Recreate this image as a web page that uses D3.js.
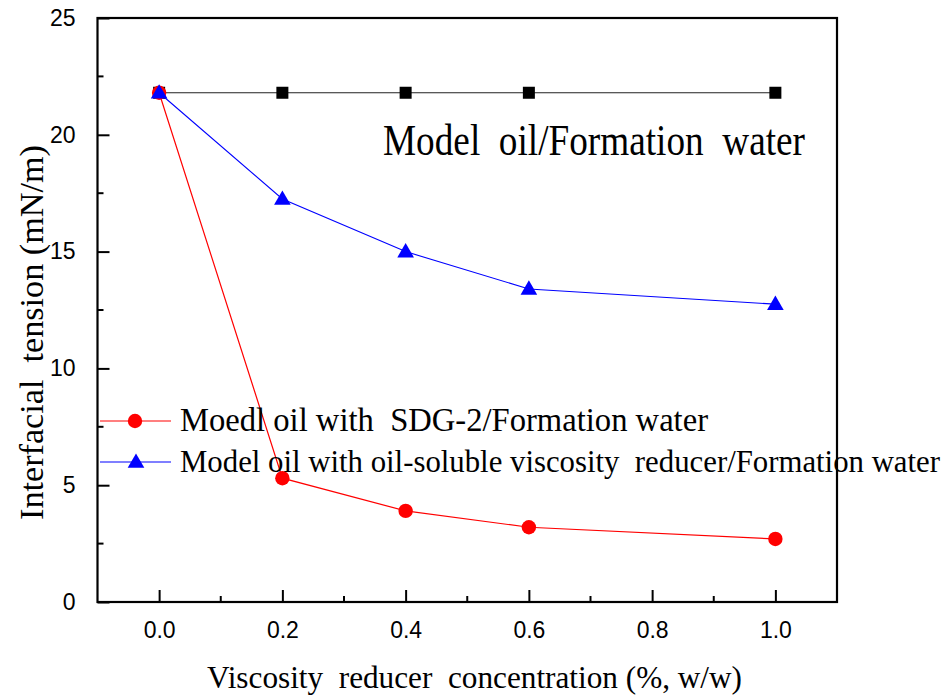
<!DOCTYPE html>
<html>
<head>
<meta charset="utf-8">
<script src="https://cdn.jsdelivr.net/npm/d3@7"></script>
<style>
  html, body { margin: 0; padding: 0; background: #fff; }
  svg { display: block; }
  text { white-space: pre; }
</style>
</head>
<body>
<svg id="chart" width="949" height="697"></svg>
<script>
// Viscosity reducer concentration (%, w/w)
const concentration = [0.0, 0.2, 0.4, 0.6, 1.0];
// Interfacial tension (mN/m) for each system
const blankSeries = [21.8, 21.8, 21.8, 21.8, 21.8];
const sdgSeries = [21.8, 5.3, 3.9, 3.2, 2.7];
const oilSolubleSeries = [21.8, 17.25, 15.0, 13.4, 12.75];

const xTicks = [0.0, 0.2, 0.4, 0.6, 0.8, 1.0];
const xMinorTicks = [0.1, 0.3, 0.5, 0.7, 0.9];
const yTicks = [0, 5, 10, 15, 20, 25];
const yMinorTicks = [2.5, 7.5, 12.5, 17.5, 22.5];

const svg = d3.select("#chart");
const plotLeft = 97.5, plotRight = 837, plotTop = 18, plotBottom = 602;

const x = d3.scaleLinear().domain([-0.1, 1.1]).range([plotLeft, plotRight]);
const y = d3.scaleLinear().domain([0, 25]).range([plotBottom, plotTop]);

const serif = "'Liberation Serif', 'Times New Roman', serif";
const sans = "'Liberation Sans', Arial, sans-serif";

// Axes: ticks point into the plot, labels outside
const xAxis = d3.axisBottom(x).tickValues(xTicks).tickSize(-12).tickPadding(20)
  .tickFormat(d3.format(".1f"));
const yAxis = d3.axisLeft(y).tickValues(yTicks).tickSize(-12).tickPadding(22)
  .tickFormat(d3.format("d"));

const gx = svg.append("g").attr("transform", `translate(0,${plotBottom})`).call(xAxis);
const gy = svg.append("g").attr("transform", `translate(${plotLeft},0)`).call(yAxis);

gx.append("g").selectAll("line").data(xMinorTicks).join("line")
  .attr("x1", d => x(d)).attr("x2", d => x(d)).attr("y1", 0).attr("y2", -6)
  .attr("stroke", "#000").attr("stroke-width", 2);
gy.append("g").selectAll("line").data(yMinorTicks).join("line")
  .attr("y1", d => y(d)).attr("y2", d => y(d)).attr("x1", 0).attr("x2", 6)
  .attr("stroke", "#000").attr("stroke-width", 2);

[gx, gy].forEach(g => {
  g.select(".domain").remove();
  g.selectAll(".tick line").attr("stroke", "#000").attr("stroke-width", 2);
  g.selectAll(".tick text").attr("fill", "#000")
    .style("font-family", sans).style("font-size", "23px");
});

// Frame
svg.append("rect").attr("x", plotLeft).attr("y", plotTop)
  .attr("width", plotRight - plotLeft).attr("height", plotBottom - plotTop)
  .attr("fill", "none").attr("stroke", "#000").attr("stroke-width", 2.2);

// Series
const line = d3.line().x((d, i) => x(concentration[i])).y(d => y(d));

svg.append("path").datum(blankSeries).attr("d", line)
  .attr("fill", "none").attr("stroke", "#222").attr("stroke-width", 1.2);
svg.append("path").datum(sdgSeries).attr("d", line)
  .attr("fill", "none").attr("stroke", "#ff0000").attr("stroke-width", 1.2);
svg.append("path").datum(oilSolubleSeries).attr("d", line)
  .attr("fill", "none").attr("stroke", "#0000ff").attr("stroke-width", 1.1);

const sq = 12;
svg.append("g").selectAll("rect").data(blankSeries).join("rect")
  .attr("x", (d, i) => x(concentration[i]) - sq / 2)
  .attr("y", d => y(d) - sq / 2)
  .attr("width", sq).attr("height", sq).attr("fill", "#000");

svg.append("g").selectAll("circle").data(sdgSeries).join("circle")
  .attr("cx", (d, i) => x(concentration[i])).attr("cy", d => y(d))
  .attr("r", 7.2).attr("fill", "#ff0000");

const tri = d3.symbol().type(d3.symbolTriangle).size(120);
svg.append("g").selectAll("path").data(oilSolubleSeries).join("path")
  .attr("d", tri)
  .attr("transform", (d, i) => `translate(${x(concentration[i])},${y(d) + 1})`)
  .attr("fill", "#0000ff");

// Annotation for the blank system
svg.append("text").attr("x", 383).attr("y", 155)
  .attr("textLength", 422).attr("lengthAdjust", "spacingAndGlyphs")
  .style("font-family", serif).style("font-size", "45px")
  .text("Model  oil/Formation  water");

// Legend
const legend = [
  { label: "Moedl oil with  SDG-2/Formation water", color: "#ff0000", shape: "circle", y: 421, len: 528, size: 33 },
  { label: "Model oil with oil-soluble viscosity  reducer/Formation water", color: "#0000ff", shape: "triangle", y: 462, len: 760, size: 31 }
];
const lg = svg.append("g");
legend.forEach(item => {
  lg.append("line").attr("x1", 100).attr("x2", 171)
    .attr("y1", item.y).attr("y2", item.y)
    .attr("stroke", item.color).attr("stroke-width", 1.2);
  if (item.shape === "circle") {
    lg.append("circle").attr("cx", 135).attr("cy", item.y).attr("r", 7.2).attr("fill", item.color);
  } else {
    lg.append("path").attr("d", tri).attr("transform", `translate(136,${item.y + 1})`).attr("fill", item.color);
  }
  lg.append("text").attr("x", 180).attr("y", item.y + 10)
    .attr("textLength", item.len).attr("lengthAdjust", "spacingAndGlyphs")
    .style("font-family", serif).style("font-size", item.size + "px")
    .text(item.label);
});

// Axis titles
svg.append("text").attr("x", 207).attr("y", 688)
  .attr("textLength", 535).attr("lengthAdjust", "spacingAndGlyphs")
  .style("font-family", serif).style("font-size", "32px")
  .text("Viscosity  reducer  concentration (%, w/w)");

svg.append("text")
  .attr("transform", `translate(43,520) rotate(-90)`)
  .attr("textLength", 375).attr("lengthAdjust", "spacingAndGlyphs")
  .style("font-family", serif).style("font-size", "33px")
  .text("Interfacial  tension (mN/m)");
</script>
</body>
</html>
